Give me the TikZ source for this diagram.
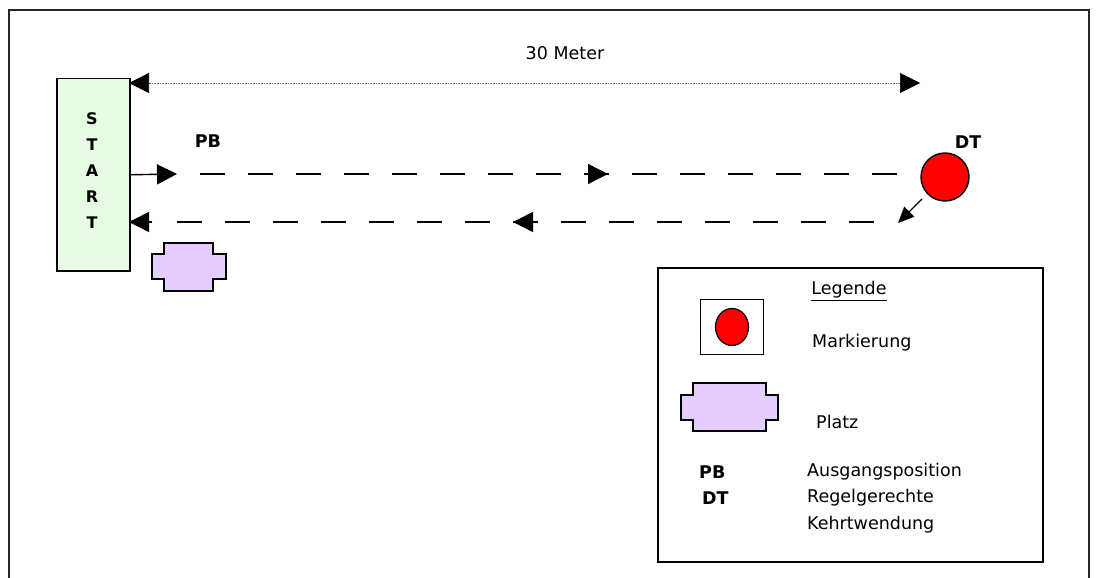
\documentclass[tikz,border=0pt]{standalone}
\usepackage{fontspec}
\setmainfont{DejaVu Sans}
\usetikzlibrary{arrows.meta}
\definecolor{startgreen}{RGB}{229,252,227}
\definecolor{lavender}{RGB}{229,206,255}
\begin{document}
\begin{tikzpicture}[x=1pt,y=-1pt,
  txt/.style={font=\fontsize{17.5}{20}\selectfont, inner sep=0pt},
  btxt/.style={font=\fontsize{17.5}{20}\selectfont\bfseries, inner sep=0pt},
  bigtip/.style={-{Triangle[length=20pt,width=20pt,color=black,fill=black]}},
  dashline/.style={line width=1.4pt, dash pattern=on 25pt off 23pt},
  frame/.style={draw, line width=1.5pt, inner sep=0pt},
  platz/.style={draw, line width=1.5pt, fill=lavender},
  ]
\useasboundingbox (0,0) rectangle (1096,578);
% outer frame
\draw[line width=1.6pt, black!85] (9,578) -- (9,10) -- (1089,10) -- (1089,578);

% START box
\node[frame, fill=startgreen, minimum width=73pt, minimum height=192pt, anchor=north west] (start) at (56,78) {};
\node[font=\fontsize{16}{26}\selectfont\bfseries, align=center, inner sep=0pt] (startlbl) at (92,171) {S\\T\\A\\R\\T};

% dimension arrow
\coordinate (dimL) at (129,83);
\coordinate (dimR) at (920,83);
\draw[densely dotted, black!60, line width=0.6pt, {Triangle[length=20pt,width=20pt,color=black,fill=black]}-{Triangle[length=20pt,width=20pt,color=black,fill=black]}] (dimL) -- (dimR);
\node[txt] (meter) at (565,53) {30 Meter};

% labels
\node[btxt] (pb) at (208,141) {PB};
\node[btxt] (dtl) at (968,142) {DT};

% marker
\node[circle, draw, line width=1.4pt, fill=red, minimum size=48pt, inner sep=0pt] (dt) at (945,177) {};

% forward path
\coordinate (f1) at (177,174);
\coordinate (f2) at (200,174);
\coordinate (f3) at (898,174);
\coordinate (fm1) at (586,174);
\coordinate (fm2) at (608,174);
\draw[bigtip, line width=1.4pt] (start.east) -- (f1);
\draw[dashline] (f2) -- (f3);
\draw[bigtip, line width=1.4pt] (fm1) -- (fm2);

% turn arrow
\coordinate (turnS) at (922,199);
\coordinate (turn) at (898,223);
\draw[line width=1.4pt, -{Triangle[length=16pt,width=14pt]}] (turnS) -- (turn);

% return path
\coordinate (r1) at (874,222);
\coordinate (r2) at (177,222);
\coordinate (rm1) at (538,222);
\coordinate (rm2) at (513,222);
\coordinate (r3) at (152,222);
\coordinate (r4) at (129,222);
\draw[dashline] (r2) -- (r1);
\draw[bigtip, line width=1.4pt] (rm1) -- (rm2);
\draw[bigtip, line width=1.4pt] (r3) -- (r4);

% Platz near start
\draw[platz] (164,243) -- (213,243) -- (213,254) -- (226,254) -- (226,279) -- (213,279) -- (213,291) -- (164,291) -- (164,279) -- (152,279) -- (152,254) -- (164,254) -- cycle;

% legend
\node[frame, minimum width=385pt, minimum height=294pt, anchor=north west] (legend) at (657,267) {};
\node[txt] (legtitle) at (849,291) {\underline{Legende}};
\node[draw, line width=1pt, minimum width=63pt, minimum height=55pt, anchor=north west, inner sep=0pt] (markbox) at (700,299) {};
\draw[line width=1.2pt, fill=red] (markbox.center) ellipse [x radius=16.5pt, y radius=18.5pt];
\node[txt, anchor=west] (markier) at (812,343) {Markierung};
\draw[platz] (693,383) -- (766,383) -- (766,395) -- (778,395) -- (778,420) -- (766,420) -- (766,431) -- (693,431) -- (693,420) -- (681,420) -- (681,395) -- (693,395) -- cycle;
\node[txt, anchor=west] (platzl) at (816,422) {Platz};
\node[btxt, anchor=west] (pbl) at (699,472) {PB};
\node[btxt, anchor=west] (dtlg) at (702,498) {DT};
\node[txt, anchor=west] (ausg) at (807,472) {Ausgangsposition};
\node[txt, anchor=west] (regel) at (807,498) {Regelgerechte};
\node[txt, anchor=west] (kehrt) at (807,525) {Kehrtwendung};
\end{tikzpicture}
\end{document}
